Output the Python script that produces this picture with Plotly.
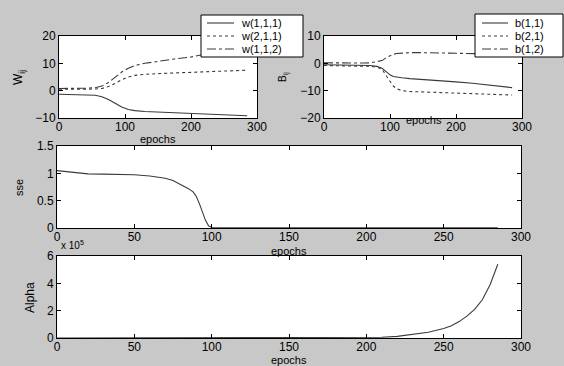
import plotly.graph_objects as go

# ---------------- data ----------------
w_epochs = [0, 20, 40, 55, 65, 75, 85, 95, 105, 115, 130, 150, 175, 200, 225, 250, 270, 285]
w111 = [-1.3, -1.4, -1.5, -1.7, -2.2, -3.2, -4.6, -6.0, -6.9, -7.3, -7.6, -7.8, -8.0, -8.2, -8.5, -8.8, -9.0, -9.2]
w211 = [0.5, 0.5, 0.5, 0.6, 0.8, 1.5, 2.6, 4.0, 5.0, 5.6, 6.0, 6.3, 6.5, 6.7, 6.9, 7.1, 7.3, 7.5]
w112 = [0.8, 0.8, 0.9, 1.1, 1.7, 3.0, 4.8, 6.8, 8.2, 9.2, 10.0, 10.8, 11.6, 12.3, 13.6, 15.0, 15.9, 16.6]

b_epochs = [0, 20, 40, 60, 70, 80, 88, 95, 100, 105, 110, 118, 130, 150, 175, 200, 225, 250, 270, 285]
b11 = [-0.5, -0.6, -0.6, -0.7, -0.8, -1.1, -1.8, -3.2, -4.2, -4.8, -5.1, -5.3, -5.6, -5.9, -6.3, -6.8, -7.3, -7.9, -8.5, -8.9]
b21 = [-0.8, -0.9, -0.9, -1.0, -1.1, -1.4, -2.2, -4.8, -6.8, -8.3, -9.3, -10.0, -10.3, -10.5, -10.6, -10.8, -11.0, -11.3, -11.5, -11.6]
b12 = [0.2, 0.1, 0.1, 0.1, 0.2, 0.5, 1.0, 2.2, 2.9, 3.3, 3.6, 3.8, 3.9, 3.9, 3.8, 3.7, 3.6, 3.5, 3.4, 3.3]

sse_epochs = [0, 10, 20, 30, 40, 50, 60, 70, 75, 80, 85, 88, 90, 92, 94, 96, 98, 100, 120, 150, 200, 250, 285]
sse = [1.05, 1.02, 0.99, 0.985, 0.98, 0.975, 0.95, 0.91, 0.87, 0.80, 0.72, 0.66, 0.58, 0.45, 0.30, 0.14, 0.04, 0.01, 0.005, 0.003, 0.002, 0.002, 0.002]

alpha_epochs = [0, 50, 100, 150, 200, 210, 220, 230, 240, 250, 255, 260, 265, 270, 275, 280, 285]
alpha_e5 = [0, 0, 0, 0, 0.02, 0.05, 0.12, 0.25, 0.42, 0.7, 0.9, 1.2, 1.6, 2.1, 2.8, 3.9, 5.4]

w_names = ["w(1,1,1)", "w(2,1,1)", "w(1,1,2)"]
b_names = ["b(1,1)", "b(2,1)", "b(1,2)"]
dashes = ["solid", "dot", "dashdot"]

W = 564
H = 366
FONT = "Liberation Sans, Arial, sans-serif"
LC = "#3a3a3a"

fig = go.Figure()

def line(x, y, name, dash, xa, ya):
    fig.add_trace(go.Scatter(x=x, y=y, mode="lines", name=name,
                             line=dict(color=LC, width=1.1, dash=dash),
                             xaxis=xa, yaxis=ya, showlegend=False))

for ys, nm, d in zip([w111, w211, w112], w_names, dashes):
    line(w_epochs, ys, nm, d, "x", "y")
for ys, nm, d in zip([b11, b21, b12], b_names, dashes):
    line(b_epochs, ys, nm, d, "x2", "y2")
line(sse_epochs, sse, "sse", "solid", "x3", "y3")
line(alpha_epochs, alpha_e5, "Alpha", "solid", "x4", "y4")

def px_x(a, b):
    return [a / W, b / W]

def px_y(top, bot):
    return [1 - bot / H, 1 - top / H]

axcommon = dict(showline=True, linecolor="black", linewidth=1, mirror="ticks",
                ticks="inside", ticklen=4, tickcolor="black", showgrid=False,
                zeroline=False, automargin=False,
                tickfont=dict(family=FONT, size=12, color="black"))
xcommon = dict(ticklabelstandoff=-2, **axcommon)

fig.update_layout(
    width=W, height=H,
    autosize=False,
    margin=dict(l=0, r=0, t=0, b=0, pad=0, autoexpand=False),
    paper_bgcolor="#c8c8c8",
    plot_bgcolor="white",
    showlegend=False,
    font=dict(family=FONT, size=12, color="black"),
    xaxis=dict(domain=px_x(59, 257), range=[0, 300], tickvals=[0, 100, 200, 300], anchor="y", **xcommon),
    yaxis=dict(domain=px_y(36, 118), range=[-10, 20], tickvals=[-10, 0, 10, 20], anchor="x", **axcommon),
    xaxis2=dict(domain=px_x(324, 522), range=[0, 300], tickvals=[0, 100, 200, 300], anchor="y2", **xcommon),
    yaxis2=dict(domain=px_y(36, 118), range=[-20, 10], tickvals=[-20, -10, 0, 10], anchor="x2", **axcommon),
    xaxis3=dict(domain=px_x(57, 521), range=[0, 300], tickvals=list(range(0, 301, 50)), anchor="y3", **xcommon),
    yaxis3=dict(domain=px_y(146, 228), range=[0, 1.5], tickvals=[0, 0.5, 1, 1.5], ticktext=["0", "0.5", "1", "1.5"], anchor="x3", **axcommon),
    xaxis4=dict(domain=px_x(57, 521), range=[0, 300], tickvals=list(range(0, 301, 50)), anchor="y4", **xcommon),
    yaxis4=dict(domain=px_y(256, 338), range=[0, 6], tickvals=[0, 2, 4, 6], anchor="x4", **axcommon),
)

def ann(text, x, y, angle=0, size=12, xanchor="center"):
    fig.add_annotation(text=text, x=x / W, y=1 - y / H, xref="paper", yref="paper",
                       showarrow=False, textangle=angle, xanchor=xanchor, yanchor="middle",
                       font=dict(family=FONT, size=size, color="black"))

# legend boxes (drawn on top of the curves)
def legend_box(x0, y0, x1, y1, names, sx0, sx1, tx, rows):
    fig.add_shape(type="rect", xref="paper", yref="paper",
                  x0=x0 / W, x1=x1 / W, y0=1 - y1 / H, y1=1 - y0 / H,
                  fillcolor="white", line=dict(color="black", width=1), layer="above")
    for nm, d, ry in zip(names, dashes, rows):
        fig.add_shape(type="line", xref="paper", yref="paper",
                      x0=sx0 / W, x1=sx1 / W, y0=1 - ry / H, y1=1 - ry / H,
                      line=dict(color=LC, width=1.1, dash=d), layer="above")
        ann(nm, tx, ry, 0, 11, "left")

legend_box(201, 15, 303, 57, w_names, 207, 234, 239, [23, 36, 49])
legend_box(475, 14, 563, 57, b_names, 482, 508, 513, [23, 36, 49])

ann("epochs", 158, 139, 0, 11)
ann("epochs", 424, 120, 0, 11)
ann("epochs", 289, 251, 0, 11)
ann("epochs", 289, 360, 0, 11)
ann("W<sub>ij</sub>", 19, 78, -90)
ann("B<sub>ij</sub>", 283, 77, -90, 10)
ann("sse", 19, 188, -90, 11)
ann("Alpha", 30, 298, -90)
ann("x 10<sup>5</sup>", 59, 245, 0, 10, "left")

fig.write_html("out.html",
               config={"displayModeBar": False},
               post_script="document.body.style.margin='0';document.body.style.padding='0';")
